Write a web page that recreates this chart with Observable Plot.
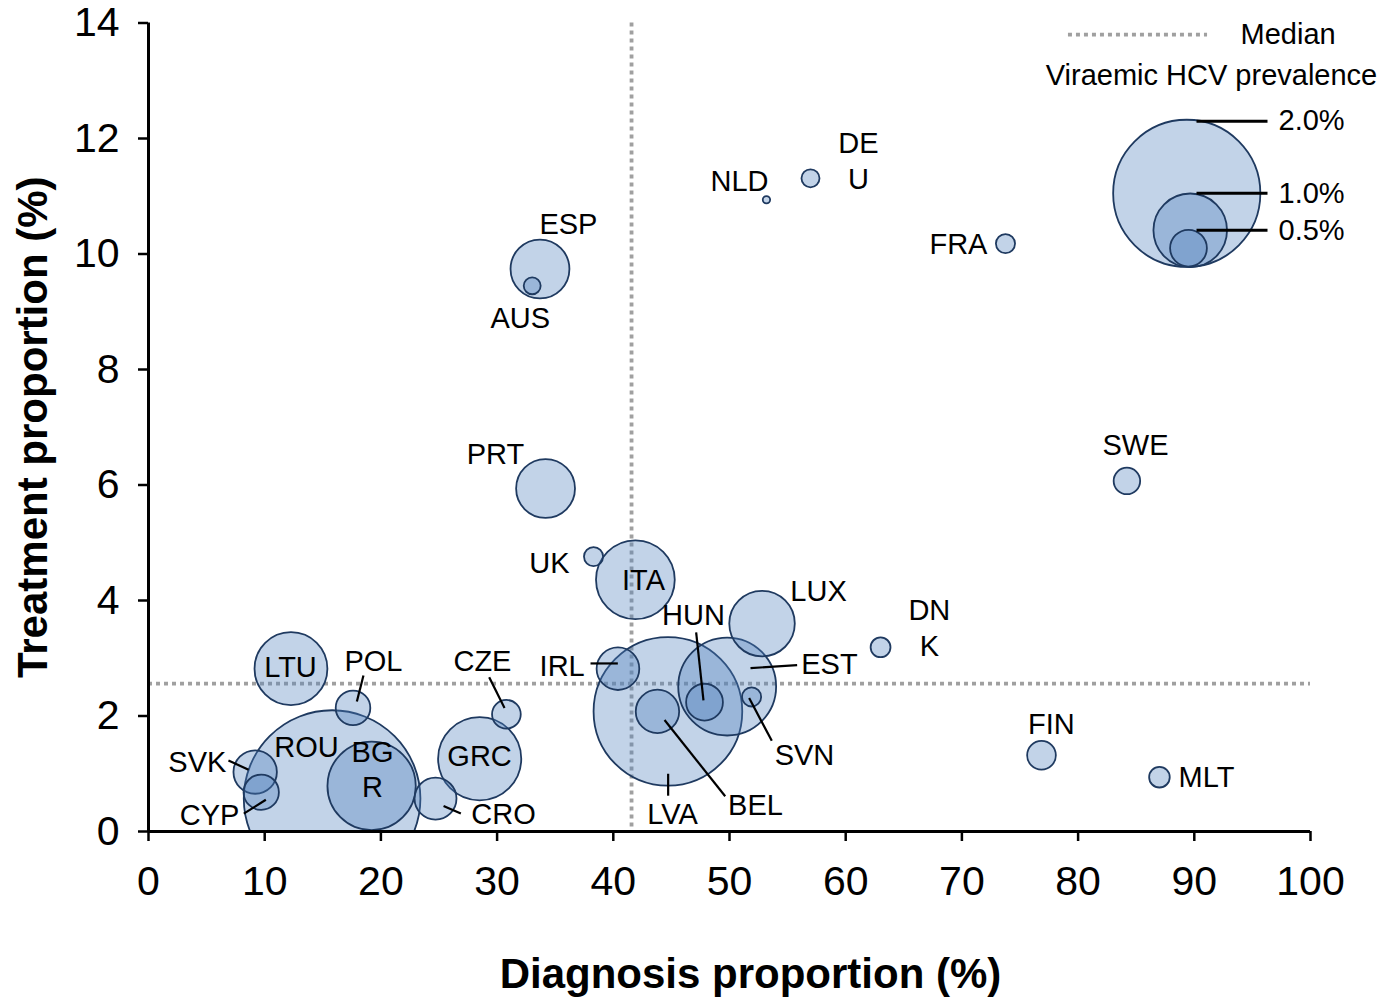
<!DOCTYPE html>
<html><head><meta charset="utf-8">
<script src="https://cdn.jsdelivr.net/npm/d3@7"></script>
<script src="https://cdn.jsdelivr.net/npm/@observablehq/plot@0.6"></script>
<style>
body{margin:0;background:#fff}
svg{font-family:"Liberation Sans",Arial,sans-serif}
</style>
</head><body><div id="chart"></div>
<script>
// Bubble data
const countries  = ["NLD","DEU","FRA","ESP","AUS","PRT","UK","ITA","LUX","IRL","LVA","EST","HUN","SVN","BEL","LTU","POL","ROU","BGR","SVK","CYP","CRO","GRC","CZE","DNK","SWE","FIN","MLT"];
const diagnosis  = [53.18,56.97,73.75,33.69,33.02,34.17,38.3,41.9,52.8,40.4,44.7,49.8,47.85,51.9,43.8,12.26,17.6,15.8,19.2,9.18,9.7,24.7,28.5,30.8,63.0,84.2,76.85,87.0];
const treatment  = [10.94,11.31,10.18,9.74,9.45,5.94,4.76,4.36,3.6,2.82,2.08,2.51,2.24,2.33,2.08,2.82,2.14,0.57,0.79,1.03,0.68,0.57,1.26,2.03,3.19,6.07,1.32,0.94];
const prevalence = [0.10,0.245,0.26,0.80,0.23,0.80,0.26,1.07,0.89,0.58,2.02,1.33,0.50,0.26,0.59,0.99,0.47,2.40,1.20,0.59,0.48,0.57,1.13,0.39,0.27,0.36,0.39,0.28];

// Medians
const medianDiagnosis = 41.57;
const medianTreatment = 2.56;

// Ticks
const xTicks = [0,10,20,30,40,50,60,70,80,90,100];
const yTicks = [0,2,4,6,8,10,12,14];

// Label annotations (text centre, data units)
const labelText = ["NLD","DE\nU","FRA","ESP","AUS","PRT","UK","ITA","LUX","HUN","DN\nK","LTU","POL","CZE","IRL","EST","ROU","BG\nR","GRC","SVK","SVN","FIN","CYP","CRO","LVA","BEL","MLT","SWE"];
const labelX    = [50.86,61.1,69.7,36.14,32.0,29.86,34.5,42.6,57.66,46.9,67.2,12.22,19.36,28.74,35.6,58.6,13.6,19.28,28.49,4.2,56.45,77.7,5.25,30.55,45.1,52.24,91.05,84.94];
const labelY    = [11.25,11.6,10.17,10.5,8.88,6.52,4.64,4.34,4.15,3.74,3.51,2.84,2.94,2.94,2.86,2.89,1.45,1.06,1.30,1.19,1.32,1.85,0.28,0.29,0.29,0.45,0.93,6.68];

// Leader lines (data units)
const leaderFor = ["POL","CZE","SVK","CYP","CRO","IRL","LVA","BEL","SVN","HUN","EST"];
const leaderX1  = [17.93,29.32,6.88,8.2,25.39,38.04,44.72,44.41,51.69,47.76,51.81];
const leaderY1  = [2.25,2.67,1.23,0.31,0.44,2.91,1.0,1.93,2.31,2.27,2.83];
const leaderX2  = [18.5,30.64,8.61,10.1,26.88,40.39,44.72,49.63,53.64,47.13,55.82];
const leaderY2  = [2.70,2.14,1.07,0.55,0.31,2.91,0.62,0.61,1.57,3.45,2.88];

// Legend
const legendValues = [2.0,1.0,0.5];
const legendLabels = ["2.0%","1.0%","0.5%"];
const legendX      = [89.35,89.65,89.5];
const legendY      = [11.05,10.41,10.10];
const legendLineY  = [12.30,11.05,10.41];
const legendLineX1 = 90.19, legendLineX2 = 96.3, legendTextX = 97.25;
const medianLegend = {x1:79.17, x2:91.14, y:13.80, textX:93.98, title:"Median", sizeTitle:"Viraemic HCV prevalence", sizeTitleX:91.48, sizeTitleY:13.08};

const data = countries.map((c,i)=>({country:c, diagnosis:diagnosis[i], treatment:treatment[i], prevalence:prevalence[i]}));
const labels = labelText.map((t,i)=>({text:t, x:labelX[i], y:labelY[i]}));
const leaders = leaderFor.map((c,i)=>({c, x1:leaderX1[i], y1:leaderY1[i], x2:leaderX2[i], y2:leaderY2[i]}));
const legend = legendValues.map((v,i)=>({v, label:legendLabels[i], x:legendX[i], y:legendY[i], ly:legendLineY[i]}));

const fillC = "#4f81bd", strokeC = "#1f3a60", medC = "#a0a0a0";
const dash = {stroke:medC, strokeWidth:3.8, strokeDasharray:"4,4"};

const plot = Plot.plot({
  width:1383, height:999,
  marginTop:22.5, marginBottom:168, marginLeft:148, marginRight:73,
  style:{fontFamily:'"Liberation Sans",Arial,sans-serif', background:"white", color:"black", overflow:"visible"},
  x:{domain:[0,100]},
  y:{domain:[0,14]},
  r:{type:"linear", domain:[0,2], range:[0,73.6]},
  marks:[
    Plot.ruleX([medianDiagnosis], dash),
    Plot.ruleY([medianTreatment], dash),
    Plot.dot(data, {x:"diagnosis", y:"treatment", r:"prevalence", fill:fillC, fillOpacity:0.35, stroke:strokeC, strokeWidth:1.8, clip:true}),
    Plot.link(leaders, {x1:"x1", y1:"y1", x2:"x2", y2:"y2", stroke:"black", strokeWidth:2.2}),
    Plot.text(labels, {x:"x", y:"y", text:"text", fontSize:29, lineHeight:1.22, lineAnchor:"middle", dy:-2, fill:"black"}),
    // legend
    Plot.ruleY([medianLegend.y], {x1:medianLegend.x1, x2:medianLegend.x2, ...dash}),
    Plot.text([medianLegend.title], {x:medianLegend.textX, y:medianLegend.y, textAnchor:"start", fontSize:29, lineAnchor:"middle"}),
    Plot.text([medianLegend.sizeTitle], {x:medianLegend.sizeTitleX, y:medianLegend.sizeTitleY, textAnchor:"middle", fontSize:29, lineAnchor:"middle"}),
    Plot.dot(legend, {x:"x", y:"y", r:"v", fill:fillC, fillOpacity:0.35, stroke:strokeC, strokeWidth:1.8}),
    Plot.link(legend, {x1:legendLineX1, x2:legendLineX2, y1:"ly", y2:"ly", stroke:"black", strokeWidth:3}),
    Plot.text(legend, {x:legendTextX, y:"ly", text:"label", textAnchor:"start", fontSize:29, lineAnchor:"middle"}),
    // axes
    Plot.axisX({ticks:xTicks, tickSize:10, tickPadding:24, fontSize:41, label:null, strokeWidth:2.5}),
    Plot.axisY({ticks:yTicks, tickSize:10, tickPadding:19, fontSize:41, label:null, strokeWidth:2.5}),
    Plot.ruleX([0], {stroke:"black", strokeWidth:3}),
    Plot.ruleY([0], {stroke:"black", strokeWidth:3}),
    Plot.text(["Diagnosis proportion (%)"], {frameAnchor:"bottom", dx:21, dy:143, fontSize:42, fontWeight:"bold", textAnchor:"middle", lineAnchor:"middle"}),
    Plot.text(["Treatment proportion (%)"], {frameAnchor:"left", dx:-115, rotate:-90, fontSize:42, fontWeight:"bold", textAnchor:"middle", lineAnchor:"middle"})
  ]
});
document.getElementById("chart").appendChild(plot);
</script>
</body></html>
